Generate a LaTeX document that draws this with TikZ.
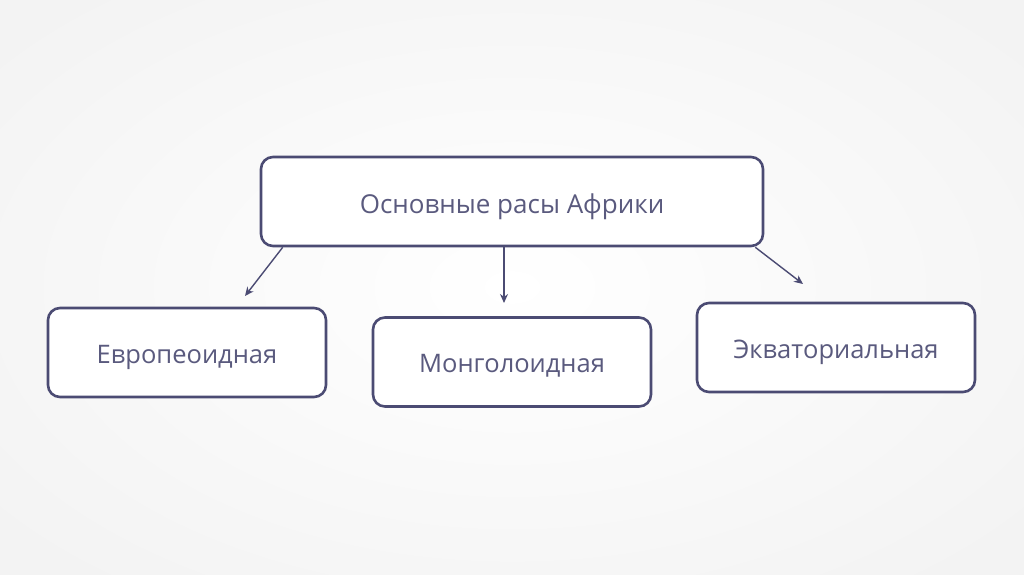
\documentclass[tikz,border=0pt]{standalone}
\usepackage{fontspec}
\setmainfont{Open Sans}
\usetikzlibrary{arrows.meta}
\definecolor{boxline}{HTML}{4B4B73}
\definecolor{txt}{HTML}{5A5A7E}
\definecolor{bgout}{HTML}{F3F3F3}
\tikzset{
  racebox/.style={draw=boxline, line width=2.6pt, fill=white, rounded corners=12pt,
    minimum width=278pt, minimum height=89pt, inner sep=0pt,
    text=txt, font=\fontsize{25.5}{30}\selectfont, text height=21.5pt, text depth=0pt},
  conn/.style={draw=boxline, line width=1.4pt, -{Stealth[length=9pt,width=8pt]}}
}
\begin{document}
\begin{tikzpicture}[x=1pt,y=-1pt]
\useasboundingbox (0,0) rectangle (1024,574);
\shade[inner color=white, outer color=bgout] (-150,-100) rectangle (1174,674);
\node[racebox, minimum width=502pt, font=\fontsize{26}{31}\selectfont, text height=23pt] (top) at (512,201.5) {Основные расы Африки};
\node[racebox] (eur) at (187,352.5) {Европеоидная};
\node[racebox] (mon) at (512,362) {Монголоидная};
\node[racebox] (eq) at (836,347.5) {Экваториальная};
\coordinate (a1) at (245,296);
\coordinate (a2) at (504,303);
\coordinate (a3) at (803,284);
\draw[conn] ([xshift=23pt]top.south west) -- (a1);
\draw[conn] ([xshift=-8pt]top.south) -- (a2);
\draw[conn] ([xshift=-9pt]top.south east) -- (a3);
\end{tikzpicture}
\end{document}
